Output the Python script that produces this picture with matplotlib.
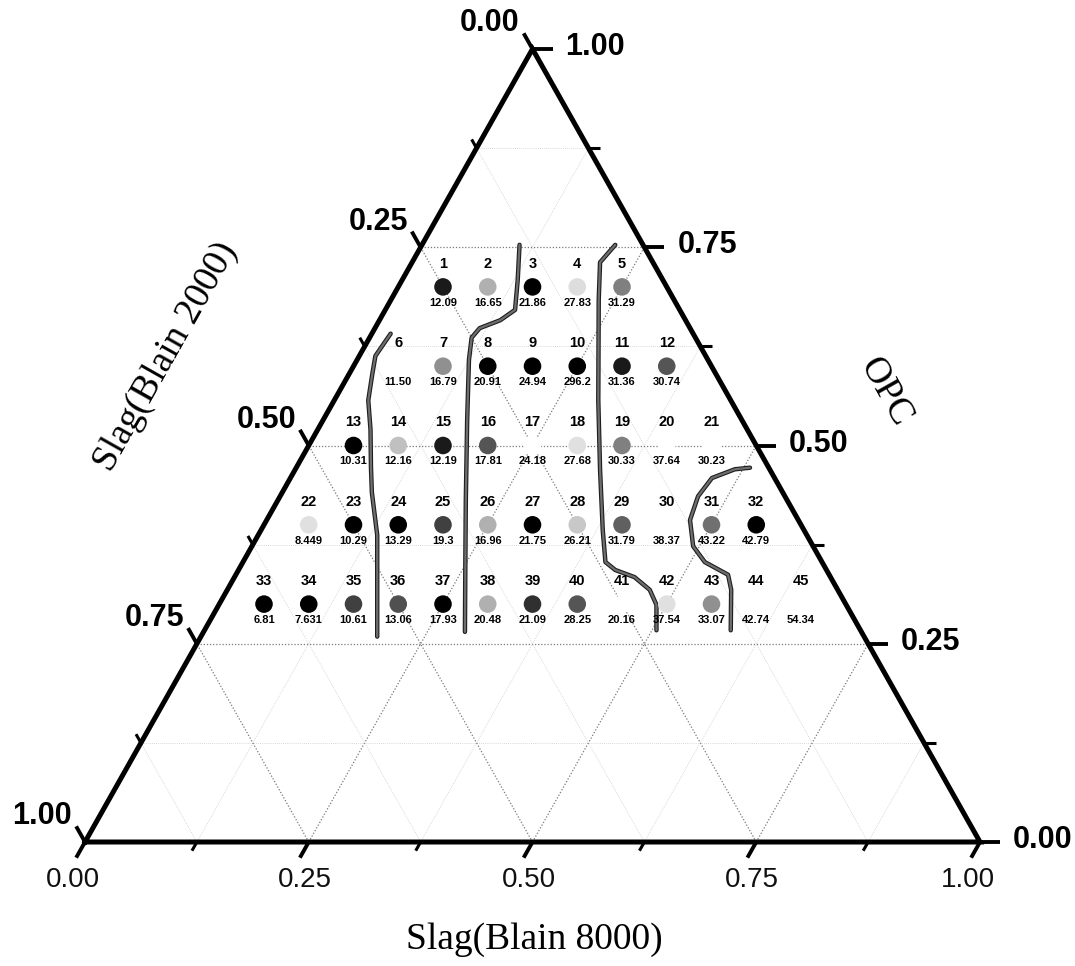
import numpy as np
import matplotlib.pyplot as plt
import matplotlib.patheffects as pe

# mixes: fraction of Slag(Blain 8000) and of OPC, Slag(Blain 2000) is the rest
opc = [0.70, 0.70, 0.70, 0.70, 0.70,
       0.60, 0.60, 0.60, 0.60, 0.60, 0.60, 0.60,
       0.50, 0.50, 0.50, 0.50, 0.50, 0.50, 0.50, 0.50, 0.50,
       0.40, 0.40, 0.40, 0.40, 0.40, 0.40, 0.40, 0.40, 0.40, 0.40, 0.40,
       0.30, 0.30, 0.30, 0.30, 0.30, 0.30, 0.30, 0.30, 0.30, 0.30, 0.30, 0.30, 0.30]
slag8000 = [0.05, 0.10, 0.15, 0.20, 0.25,
            0.05, 0.10, 0.15, 0.20, 0.25, 0.30, 0.35,
            0.05, 0.10, 0.15, 0.20, 0.25, 0.30, 0.35, 0.40, 0.45,
            0.05, 0.10, 0.15, 0.20, 0.25, 0.30, 0.35, 0.40, 0.45, 0.50, 0.55,
            0.05, 0.10, 0.15, 0.20, 0.25, 0.30, 0.35, 0.40, 0.45, 0.50, 0.55, 0.60, 0.65]
point_no = [str(i) for i in range(1, 46)]
values = ['12.09', '16.65', '21.86', '27.83', '31.29',
          '11.50', '16.79', '20.91', '24.94', '296.2', '31.36', '30.74',
          '10.31', '12.16', '12.19', '17.81', '24.18', '27.68', '30.33', '37.64', '30.23',
          '8.449', '10.29', '13.29', '19.3', '16.96', '21.75', '26.21', '31.79', '38.37', '43.22', '42.79',
          '6.81', '7.631', '10.61', '13.06', '17.93', '20.48', '21.09', '28.25', '20.16', '37.54', '33.07', '42.74', '54.34']
shade = ['#1a1a1a', '#b0b0b0', '#000000', '#dddddd', '#808080',
         'white', '#909090', '#000000', '#000000', '#000000', '#1a1a1a', '#555555',
         '#000000', '#c0c0c0', '#1a1a1a', '#555555', 'white', '#e0e0e0', '#808080', 'white', 'white',
         '#e0e0e0', '#000000', '#000000', '#404040', '#b0b0b0', '#000000', '#c8c8c8', '#606060', 'white', '#707070', '#000000',
         '#000000', '#000000', '#404040', '#505050', '#000000', '#b0b0b0', '#303030', '#555555', 'white', '#e0e0e0', '#909090', 'white', 'white']

# boundary lines, (Blain 8000, OPC) pairs
line_a8000 = [[0.021, 0.018, 0.026, 0.038, 0.059, 0.083, 0.100, 0.133, 0.197],
              [0.109, 0.129, 0.145, 0.135, 0.117, 0.114, 0.125, 0.161, 0.210, 0.247, 0.292],
              [0.216, 0.210, 0.232, 0.295, 0.341, 0.382, 0.405, 0.421, 0.447, 0.472, 0.489, 0.505],
              [0.507, 0.491, 0.471, 0.467, 0.473, 0.493, 0.516, 0.550, 0.563, 0.588]]
line_opc = [[0.641, 0.613, 0.590, 0.557, 0.520, 0.473, 0.441, 0.387, 0.259],
            [0.753, 0.709, 0.671, 0.658, 0.648, 0.636, 0.608, 0.532, 0.431, 0.356, 0.265],
            [0.753, 0.731, 0.684, 0.557, 0.469, 0.393, 0.353, 0.343, 0.334, 0.318, 0.299, 0.267],
            [0.472, 0.470, 0.459, 0.436, 0.406, 0.373, 0.353, 0.337, 0.318, 0.267]]

ticks = [0.0, 0.25, 0.5, 0.75, 1.0]
tick_text = ['0.00', '0.25', '0.50', '0.75', '1.00']

# triangle corners in the picture
X0, Y0, W, H = 85.0, 842.0, 895.0, 793.0


def tern(a, c):
    a = np.asarray(a, dtype=float)
    c = np.asarray(c, dtype=float)
    return X0 + (a + c / 2) * W, Y0 - c * H


fig = plt.figure(figsize=(10.75, 9.66), dpi=100)
ax = fig.add_axes([0, 0, 1, 1])
ax.set_xlim(0, 1075)
ax.set_ylim(966, 0)
ax.axis('off')

# grid
for k in range(1, 8):
    v = k / 8
    major = k % 2 == 0
    col = '#7a7a7a' if major else '#cccccc'
    lw = 0.9 if major else 0.6
    for a, c in [([0, 1 - v], [v, v]), ([v, v], [0, 1 - v]), ([1 - v, 0], [0, 1 - v])]:
        x, y = tern(a, c)
        ax.plot(x, y, ls=(0, (1, 1.5)), color=col, lw=lw, zorder=1)

# frame
x, y = tern([0, 1, 0, 0], [0, 0, 1, 0])
ax.plot(x, y, color='black', lw=3.6, solid_joinstyle='miter', zorder=5)

d_left = np.array([X0 - (X0 + W / 2), Y0 - (Y0 - H)])
d_left = d_left / np.hypot(*d_left)            # down-left along left edge
d_right = np.array([(X0 + W) - (X0 + W / 2), Y0 - (Y0 - H)])
d_right = d_right / np.hypot(*d_right)         # down-right along right edge
out_bottom = d_left
out_left = -d_right
out_right = np.array([1.0, 0.0])

tick_font = dict(family=['Liberation Sans', 'DejaVu Sans'])
for k in range(9):
    v = k / 8
    major = k % 2 == 0
    L = 18 if major else 10
    lw = 2.8 if major else 2.2
    # bottom: Slag(Blain 8000)
    bx, by = tern(v, 0)
    ax.plot([bx, bx + L * out_bottom[0]], [by, by + L * out_bottom[1]], color='black', lw=lw,
            solid_capstyle='butt', zorder=5)
    # left: Slag(Blain 2000)
    lx, ly = tern(0, 1 - v)
    ax.plot([lx, lx + L * out_left[0]], [ly, ly + L * out_left[1]], color='black', lw=lw,
            solid_capstyle='butt', zorder=5)
    # right: OPC
    rx, ry = tern(1 - v, v)
    ax.plot([rx, rx + (L + 2) * out_right[0]], [ry, ry], color='black', lw=lw,
            solid_capstyle='butt', zorder=5)

for v, s in zip(ticks, tick_text):
    bx, by = tern(v, 0)
    shift = -12 if v in (0.0, 1.0) else -4
    ax.text(bx + shift, by + 25, s, ha='center', va='top', fontsize=20, color='#111111', **tick_font)
    lx, ly = tern(0, 1 - v)
    tx, ty = lx + 18 * out_left[0], ly + 18 * out_left[1]
    ax.text(tx - 4, ty - 10, s, ha='right', va='center', fontsize=22, fontweight='bold', **tick_font)
    rx, ry = tern(1 - v, v)
    ax.text(rx + 33, ry - 2, s, ha='left', va='center', fontsize=22, fontweight='bold', **tick_font)

# axis titles
serif = dict(family=['Liberation Serif', 'DejaVu Serif'])
ang = np.degrees(np.arctan2(H, W / 2))
ax.text(534, 940, 'Slag(Blain 8000)', ha='center', va='center', fontsize=27, **serif)
ax.text(166, 357, 'Slag(Blain 2000)', ha='center', va='center', fontsize=27,
        rotation=ang, rotation_mode='anchor', **serif)
ax.text(885, 392, 'OPC', ha='center', va='center', fontsize=27,
        rotation=-ang, rotation_mode='anchor', **serif)

# boundary lines
for a, c in zip(line_a8000, line_opc):
    x, y = tern(a, c)
    ax.plot(x, y, color='#6e6e6e', lw=1.6, solid_capstyle='round', zorder=3,
            path_effects=[pe.Stroke(linewidth=3.2, foreground='#1e1e1e'), pe.Normal()])

# mixes
px, py = tern(slag8000, opc)
ax.scatter(px, py, s=160, c=shade, edgecolors='none', zorder=4)
for x, y, n, v in zip(px, py, point_no, values):
    ax.text(x, y - 23, n, ha='center', va='center', fontsize=10.5, fontweight='bold', zorder=6, **tick_font)
    ax.text(x, y + 16, v, ha='center', va='center', fontsize=8, fontweight='bold', zorder=6, **tick_font)

fig.savefig('out.png', dpi=100)
